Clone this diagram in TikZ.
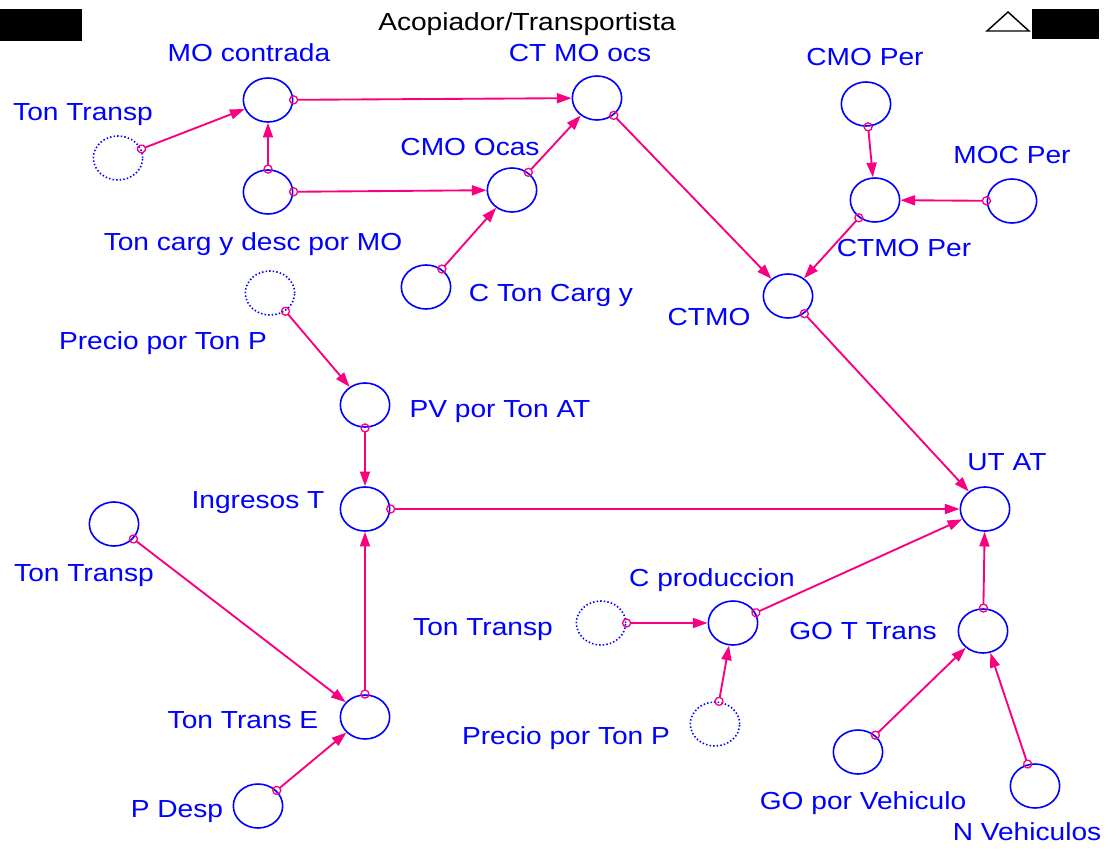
\documentclass[tikz,border=0pt]{standalone}
\usepackage{fontspec}
\setmainfont{Liberation Sans}[FakeStretch=1.14]
\usetikzlibrary{shapes.geometric,arrows.meta}
\definecolor{linkpink}{RGB}{250,0,128}
\definecolor{varblue}{RGB}{0,0,255}
\tikzset{
  var/.style={ellipse, draw=varblue, line width=1.2pt, minimum width=37pt,
    minimum height=33pt, inner sep=0pt},
  ghost/.style={var, dash pattern=on 1.1pt off 1.6pt},
  lbl/.style={text=varblue, font=\fontsize{18.5}{20}\selectfont, inner sep=0pt,
    text height=0.72em, text depth=0.2em, yshift=-3.8pt},
  link/.style={draw=linkpink, line width=1.4pt, shorten <=-3.4pt,
    {Circle[open,length=7pt,width=7pt,line width=1pt]}-{Triangle[length=11pt,width=7.5pt]}}
}
\begin{document}
\begin{tikzpicture}[x=0.75pt,y=-0.75pt]
\useasboundingbox (0,0) rectangle (1116,849);

% header marks
\fill[black] (0,9) rectangle (82,41);
\fill[black] (1032,9) rectangle (1099,39);
\draw[black, line width=1.1pt] (987,31) -- (1008,12) -- (1029,31) -- cycle;
\node[lbl, text=black] (title) at (527,22) {Acopiador/Transportista};

% variables
\node[var]   (mocon)  at (268,100) {};
\node[var]   (ctmoo)  at (597,98)  {};
\node[ghost] (tt1)    at (118,158) {};
\node[var]   (tcarg)  at (268,192) {};
\node[var]   (cmoo)   at (512,190) {};
\node[var]   (ctcy)   at (426,287) {};
\node[var]   (cmop)   at (866,104) {};
\node[var]   (mocp)   at (1012,201) {};
\node[var]   (ctmop)  at (875,200) {};
\node[var]   (ctmo)   at (788,296) {};
\node[ghost] (ptp1)   at (270,293) {};
\node[var]   (pvat)   at (365,405) {};
\node[var]   (ingt)   at (365,509) {};
\node[var]   (utat)   at (985,509) {};
\node[var]   (tt2)    at (114,524) {};
\node[var]   (cprod)  at (733,623) {};
\node[ghost] (tt3)    at (601,623) {};
\node[var]   (gott)   at (983,631) {};
\node[var]   (tte)    at (365,717) {};
\node[ghost] (ptp2)   at (715,724) {};
\node[var]   (gopv)   at (858,752) {};
\node[var]   (nveh)   at (1035,786) {};
\node[var]   (pdesp)  at (258,806) {};

% variable names
\node[lbl] (l-mocon) at (249,53)  {MO contrada};
\node[lbl] (l-ctmoo) at (580,53)  {CT MO ocs};
\node[lbl] (l-tt1)   at (83,112)  {Ton Transp};
\node[lbl] (l-tcarg) at (253,242) {Ton carg y desc por MO};
\node[lbl] (l-cmoo)  at (470,147) {CMO Ocas};
\node[lbl] (l-ctcy)  at (551,293) {C Ton Carg y};
\node[lbl] (l-cmop)  at (865,57)  {CMO Per};
\node[lbl] (l-mocp)  at (1012,155) {MOC Per};
\node[lbl] (l-ctmop) at (904,248) {CTMO Per};
\node[lbl] (l-ctmo)  at (709,317) {CTMO};
\node[lbl] (l-ptp1)  at (163,341) {Precio por Ton P};
\node[lbl] (l-pvat)  at (500,409) {PV por Ton AT};
\node[lbl] (l-ingt)  at (258,500) {Ingresos T};
\node[lbl] (l-utat)  at (1007,462) {UT AT};
\node[lbl] (l-tt2)   at (84,573)  {Ton Transp};
\node[lbl] (l-cprod) at (712,578) {C produccion};
\node[lbl] (l-tt3)   at (483,627) {Ton Transp};
\node[lbl] (l-gott)  at (863,631) {GO T Trans};
\node[lbl] (l-tte)   at (243,720) {Ton Trans E};
\node[lbl] (l-ptp2)  at (566,736) {Precio por Ton P};
\node[lbl] (l-gopv)  at (863,801) {GO por Vehiculo};
\node[lbl] (l-nveh)  at (1027,832) {N Vehiculos};
\node[lbl] (l-pdesp) at (177,809) {P Desp};

% links
\draw[link] (tt1) -- (mocon);
\draw[link] (tcarg) -- (mocon);
\draw[link] (tcarg) -- (cmoo);
\draw[link] (mocon) -- (ctmoo);
\draw[link] (cmoo) -- (ctmoo);
\draw[link] (ctcy) -- (cmoo);
\draw[link] (ctmoo) -- (ctmo);
\draw[link] (cmop) -- (ctmop);
\draw[link] (mocp) -- (ctmop);
\draw[link] (ctmop) -- (ctmo);
\draw[link] (ctmo) -- (utat);
\draw[link] (ptp1) -- (pvat);
\draw[link] (pvat) -- (ingt);
\draw[link] (ingt) -- (utat);
\draw[link] (tt2) -- (tte);
\draw[link] (tte) -- (ingt);
\draw[link] (pdesp) -- (tte);
\draw[link] (tt3) -- (cprod);
\draw[link] (ptp2) -- (cprod);
\draw[link] (cprod) -- (utat);
\draw[link] (gott) -- (utat);
\draw[link] (gopv) -- (gott);
\draw[link] (nveh) -- (gott);
\end{tikzpicture}
\end{document}
